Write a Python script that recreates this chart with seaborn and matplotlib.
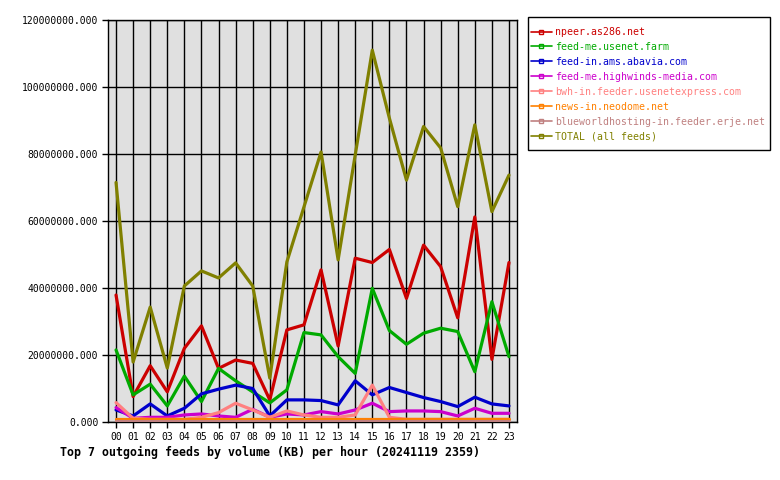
import numpy as np
import pandas as pd
import matplotlib
matplotlib.use("Agg")
import matplotlib.pyplot as plt
from matplotlib.lines import Line2D
from matplotlib.patches import Rectangle
from matplotlib.ticker import FuncFormatter, MultipleLocator
import seaborn as sns

hours = ["00", "01", "02", "03", "04", "05", "06", "07", "08", "09", "10", "11",
         "12", "13", "14", "15", "16", "17", "18", "19", "20", "21", "22", "23"]

feeds = ["npeer.as286.net", "feed-me.usenet.farm", "feed-in.ams.abavia.com",
         "feed-me.highwinds-media.com", "bwh-in.feeder.usenetexpress.com",
         "news-in.neodome.net", "blueworldhosting-in.feeder.erje.net",
         "TOTAL (all feeds)"]

colors = ["#cc0000", "#00aa00", "#0000cc", "#cc00cc", "#ff8080", "#ff8000",
          "#c08080", "#808000"]

# values in KB (millions)
npeer = [37.9, 7.6, 16.8, 9.0, 22.0, 28.7, 16.0, 18.5, 17.5, 6.6, 27.5, 29.0,
         45.4, 22.7, 48.9, 47.6, 51.5, 36.9, 52.8, 46.4, 31.1, 61.2, 18.7, 47.6]
usenet_farm = [21.5, 8.1, 11.3, 4.8, 13.7, 6.1, 16.0, 12.3, 9.0, 5.7, 9.6, 26.7,
               26.0, 19.5, 14.5, 39.9, 27.3, 23.2, 26.5, 28.0, 27.0, 15.0, 35.9, 19.5]
abavia = [3.6, 1.8, 5.4, 1.8, 4.1, 8.4, 9.8, 11.0, 10.0, 1.8, 6.6, 6.6,
          6.4, 5.1, 12.3, 8.1, 10.3, 8.8, 7.3, 6.1, 4.6, 7.4, 5.4, 4.8]
highwinds = [4.3, 1.1, 1.4, 1.4, 2.1, 2.4, 1.8, 1.4, 3.8, 1.4, 2.4, 2.1,
             3.1, 2.4, 3.6, 5.6, 3.1, 3.3, 3.3, 3.1, 1.8, 4.1, 2.6, 2.6]
usenetexpress = [5.8, 1.1, 0.8, 0.8, 0.8, 1.4, 2.8, 5.6, 3.6, 1.4, 3.3, 2.1,
                 1.4, 1.4, 2.1, 11.0, 1.4, 0.8, 0.8, 0.8, 0.8, 0.8, 0.8, 0.8]
neodome = [0.9, 0.9, 0.9, 0.9, 0.9, 0.9, 0.9, 0.9, 0.9, 0.9, 0.9, 0.9,
           0.9, 0.9, 0.9, 0.9, 0.9, 0.9, 0.9, 0.9, 0.9, 0.9, 0.9, 0.9]
erje = [0.3, 0.3, 0.3, 0.3, 0.3, 0.3, 0.3, 0.3, 0.3, 0.3, 0.3, 0.3,
        0.3, 0.3, 0.3, 0.3, 0.3, 0.3, 0.3, 0.3, 0.3, 0.3, 0.3, 0.3]
total = [71.5, 17.9, 34.3, 16.1, 40.6, 45.1, 43.0, 47.5, 40.6, 13.1, 47.8, 64.2,
         80.6, 48.4, 79.7, 111.0, 90.7, 72.2, 88.2, 81.8, 64.3, 88.7, 62.8, 73.7]

series = [npeer, usenet_farm, abavia, highwinds, usenetexpress, neodome, erje, total]

rows = []
for name, vals in zip(feeds, series):
    for i, v in enumerate(vals):
        rows.append({"hour": i, "value": v * 1e6, "feed": name})
df = pd.DataFrame(rows)

sns.set_theme(style="white")
plt.rcParams["font.family"] = ["DejaVu Sans Mono", "DejaVu Sans"]

fig = plt.figure(figsize=(7.8, 4.8), dpi=100)
fig.patch.set_facecolor("white")
ax = fig.add_axes([108 / 780, 1 - 422 / 480, (517 - 108) / 780, (422 - 20) / 480])
ax.set_facecolor("#e0e0e0")

sns.lineplot(data=df, x="hour", y="value", hue="feed", hue_order=feeds,
             palette=dict(zip(feeds, colors)), linewidth=2.3, legend=False,
             ax=ax, zorder=3)

ax.set_xlim(-0.47, 23.47)
ax.set_ylim(0, 120e6)
ax.set_xticks(range(24))
ax.set_xticklabels(hours)
ax.yaxis.set_major_locator(MultipleLocator(20e6))
ax.yaxis.set_major_formatter(FuncFormatter(lambda v, p: "%.3f" % v))
ax.set_xlabel("")
ax.set_ylabel("")
ax.grid(True, color="black", linewidth=1.0, zorder=1)
ax.set_axisbelow(True)
for s in ax.spines.values():
    s.set_color("black")
    s.set_linewidth(1.0)
ax.tick_params(axis="both", direction="out", length=4, width=1, color="black",
               labelsize=7, labelcolor="black", pad=3, left=True, bottom=True)

# legend frame
fig.add_artist(Rectangle((528 / 780, 1 - 150 / 480), 242 / 780, 133 / 480,
                         transform=fig.transFigure, fill=False,
                         edgecolor="black", linewidth=1.0))

handles = [Line2D([0], [0], color=c, linewidth=1.2, marker="s", markersize=3,
                  markerfacecolor="none", markeredgecolor=c) for c in colors]
leg = fig.legend(handles, feeds, loc="upper left",
                 bbox_to_anchor=(531 / 780, 1 - 27 / 480), borderaxespad=0,
                 frameon=False, fontsize=7.1, handlelength=2.1,
                 handletextpad=0.3, labelspacing=0.5, borderpad=0)
for t, c in zip(leg.get_texts(), colors):
    t.set_color(c)

fig.text(60 / 780, 1 - 452 / 480,
         "Top 7 outgoing feeds by volume (KB) per hour (20241119 2359)",
         fontsize=8.4, fontweight="bold", va="center", ha="left", color="black")

fig.savefig("out.png", dpi=100, facecolor="white")
